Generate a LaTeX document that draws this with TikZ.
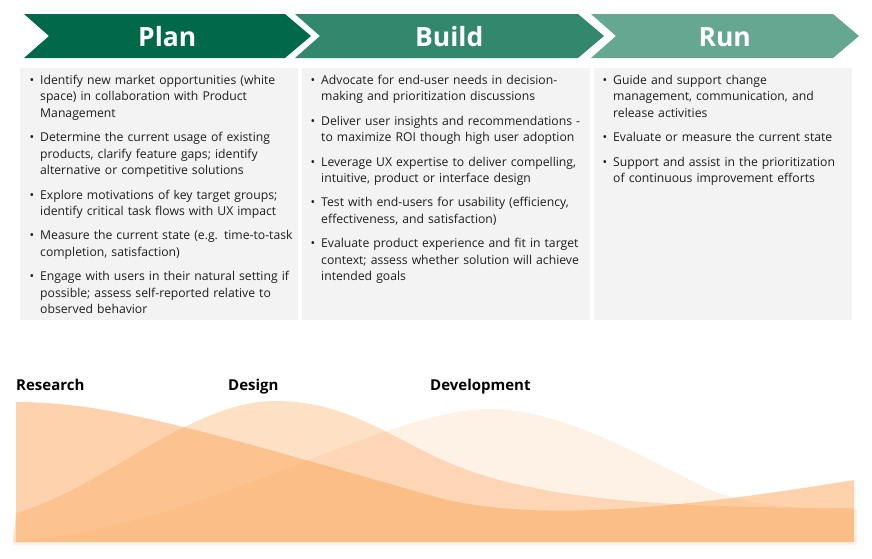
\documentclass[tikz,border=0pt]{standalone}
\usepackage{fontspec}
\setmainfont{Open Sans}
\usetikzlibrary{positioning}
\definecolor{plan}{HTML}{00694A}
\definecolor{build}{HTML}{32886C}
\definecolor{run}{HTML}{65A790}
\definecolor{panel}{HTML}{F3F3F3}
\definecolor{textmain}{HTML}{1E1E1E}
\definecolor{wave}{HTML}{FBA55A}

\begin{document}
\begin{tikzpicture}[x=1pt, y=-1pt,
    phase/.style={font=\fontsize{26.5}{30}\selectfont\bfseries, text=white, inner sep=0pt},
    panelbox/.style={fill=panel},
    item/.style={anchor=north west, inner sep=0pt, text width=275pt, align=left,
                 text=textmain, font=\fontsize{12.2}{16.5}\selectfont,
                 execute at begin node={\noindent\strut\makebox[0pt][r]{\textbullet\hspace{6pt}}},
                 execute at end node={\strut}},
    next/.style={below right=7.5pt and 0pt of #1.south west},
    stage/.style={anchor=base west, inner sep=0pt, font=\fontsize{15}{18}\selectfont\bfseries, text=black},
    hump/.style={fill=wave}
  ]
    \useasboundingbox (0,0) rectangle (872,558);

    % phase chevrons
    \foreach \xa/\xb/\col/\lab/\name in {24/285/plan/Plan/plan, 295/578/build/Build/build, 591/833/run/Run/run}{
      \fill[\col] (\xa,14) -- (\xb,14) -- (\xb+26,36) -- (\xb,58) -- (\xa,58) -- (\xa+25,36) -- cycle;
      \node[phase] (\name) at ({(\xa+\xb)/2+12.75},37) {\lab};
    }

    % panels
    \fill[panelbox] (20,68) rectangle (298,320);
    \fill[panelbox] (302,68) rectangle (590,320);
    \fill[panelbox] (594,68) rectangle (852,320);

    % Plan
    \node[item] (p1) at (40,72.5) {Identify new market opportunities (white\\space) in collaboration with Product\\Management};
    \node[item, next=p1] (p2) {Determine the current usage of existing\\products, clarify feature gaps; identify\\alternative or competitive solutions};
    \node[item, next=p2] (p3) {Explore motivations of key target groups;\\identify critical task flows with UX impact};
    \node[item, next=p3] (p4) {Measure the current state (e.g. time-to-task\\completion, satisfaction)};
    \node[item, next=p4] (p5) {Engage with users in their natural setting if\\possible; assess self-reported relative to\\observed behavior};

    % Build
    \node[item] (b1) at (321,72.5) {Advocate for end-user needs in decision-\\making and prioritization discussions};
    \node[item, next=b1] (b2) {Deliver user insights and recommendations -\\to maximize ROI though high user adoption};
    \node[item, next=b2] (b3) {Leverage UX expertise to deliver compelling,\\intuitive, product or interface design};
    \node[item, next=b3] (b4) {Test with end-users for usability (efficiency,\\effectiveness, and satisfaction)};
    \node[item, next=b4] (b5) {Evaluate product experience and fit in target\\context; assess whether solution will achieve\\intended goals};

    % Run
    \node[item] (r1) at (613,72.5) {Guide and support change\\management, communication, and\\release activities};
    \node[item, next=r1] (r2) {Evaluate or measure the current state};
    \node[item, next=r2] (r3) {Support and assist in the prioritization\\of continuous improvement efforts};

    % effort humps
    \fill[hump, fill opacity=0.15] (13,545) -- (16,540) .. controls (200,530) and (380,409) .. (490,409)
      .. controls (560,409) and (640,455) .. (700,485) .. controls (730,500) and (780,510) .. (857,510) -- (857,545) -- cycle;
    \fill[hump, fill opacity=0.35] (13,542) -- (16,513) .. controls (100,490) and (190,401) .. (275,401)
      .. controls (340,401) and (380,430) .. (436,457) .. controls (520,497) and (640,508) .. (854,508) -- (854,542) -- cycle;
    \fill[hump, fill opacity=0.5] (16,402) .. controls (110,402) and (200,430) .. (436,497)
      .. controls (540,525) and (700,505) .. (854,480) -- (854,542) -- (16,542) -- cycle;

    \node[stage] (research) at (16,390) {Research};
    \node[stage] (design) at (228,390) {Design};
    \node[stage] (development) at (430,390) {Development};
  \end{tikzpicture}
\end{document}
